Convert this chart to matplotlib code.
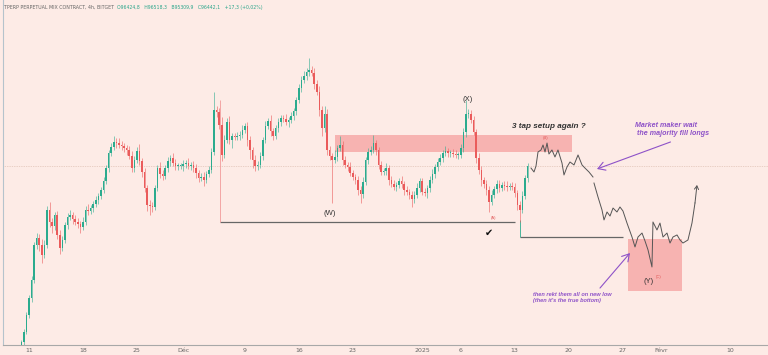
import matplotlib
matplotlib.use("Agg")
import matplotlib.pyplot as plt
import numpy as np

# 8h candles, first one on 2024-11-10 00:00 (x axis = days since 11 Nov)
first_open = 75900
closes = [
    76380, 77520, 79460, 81390, 83450, 87440, 88230, 87440, 86300, 87440,
    91430, 90060, 89600, 90860, 88580, 87090, 88010, 89720, 90630, 90860,
    90400, 90060, 89830, 89490, 90060, 91430, 91310, 91650, 92110, 92570,
    93020, 93710, 94730, 96210, 97920, 98610, 99180, 99060, 98840, 98720,
    98490, 98270, 97580, 96210, 97130, 98150, 97010, 95760, 93930, 92000,
    91880, 91770, 93930, 96210, 95530, 95300, 96210, 97010, 97350, 96780,
    96440, 96440, 96440, 96670, 96780, 96440, 96560, 96210, 95640, 95070,
    95190, 94850, 95530, 95990, 98040, 102830, 102600, 101120, 97700, 99410,
    101460, 99410, 99860, 99750, 99860, 99980, 100550, 101000, 99410, 98270,
    97130, 96440, 96560, 97580, 99410, 101000, 101570, 100430, 99860, 100770,
    101460, 101910, 101800, 101460, 101690, 102140, 102710, 103970, 105330, 106250,
    106700, 107160, 107390, 107040, 105790, 104880, 102830, 100770, 102370, 98270,
    97580, 97130, 97470, 98490, 98840, 97130, 96560, 96330, 95640, 95190,
    94850, 93710, 93250, 94620, 97130, 98040, 98270, 99060, 98270, 96560,
    95760, 95870, 96210, 94850, 94390, 94050, 94280, 94730, 94390, 93710,
    93480, 93140, 92680, 93140, 93930, 94730, 93480, 93360, 93930, 94850,
    95530, 96330, 96900, 97350, 97920, 98150, 97920, 97920, 97810, 97700,
    97700, 98490, 100320, 102370, 102370, 101690, 100320, 97350, 95990, 94850,
    94390, 93710, 92340, 93140, 93820, 94390, 93930, 94280, 94160, 94050,
    94160, 94050, 93360, 92000, 91430, 93020, 95070, 96440,
]
up_wick = [
    200, 300, 300, 400, 500, 300, 600, 500, 700, 600,
    400, 900, 500, 300, 400, 600, 500, 300, 400, 600,
    300, 500, 400, 300, 600, 500, 700, 400, 300, 500,
    400, 300, 500, 400, 300, 500, 700, 400, 600, 500,
    400, 300, 500, 600, 400, 500, 800, 300, 400, 300,
    600, 500, 400, 300, 700, 500, 400, 500, 300, 600,
    500, 400, 300, 500, 400, 600, 300, 400, 500, 300,
    400, 600, 300, 500, 400, 2000, 500, 400, 900, 600,
    500, 700, 400, 300, 500, 400, 600, 300, 500, 400,
    300, 600, 400, 500, 300, 600, 400, 700, 300, 400,
    500, 300, 400, 600, 300, 500, 400, 300, 500, 400,
    600, 500, 1400, 400, 600, 500, 700, 400, 900, 600,
    500, 400, 800, 300, 1000, 500, 400, 300, 600, 400,
    300, 500, 400, 600, 300, 500, 400, 900, 400, 300,
    500, 400, 600, 300, 400, 500, 300, 400, 600, 300,
    400, 300, 500, 400, 600, 300, 400, 500, 300, 400,
    600, 300, 400, 500, 300, 600, 400, 300, 500, 400,
    300, 500, 400, 1600, 600, 400, 500, 300, 600, 400,
    300, 500, 400, 600, 300, 400, 500, 300, 400, 600,
    300, 500, 400, 300, 500, 600, 400, 300,
]
dn_wick = [
    300, 400, 200, 300, 400, 300, 500, 700, 900, 400,
    300, 600, 800, 400, 500, 700, 300, 400, 500, 300,
    600, 400, 500, 700, 300, 400, 500, 300, 400, 300,
    500, 300, 400, 300, 500, 300, 400, 600, 300, 500,
    400, 600, 300, 500, 400, 300, 500, 600, 400, 700,
    1000, 600, 400, 300, 500, 400, 300, 400, 600, 300,
    400, 500, 300, 600, 400, 300, 500, 400, 600, 500,
    300, 700, 400, 300, 400, 300, 600, 500, 700, 400,
    300, 500, 900, 400, 300, 500, 400, 300, 700, 1000,
    900, 600, 400, 300, 500, 400, 300, 600, 400, 300,
    400, 500, 300, 400, 600, 300, 400, 500, 300, 400,
    300, 400, 500, 300, 600, 400, 700, 900, 500, 600,
    500, 4900, 400, 500, 300, 600, 400, 500, 300, 400,
    500, 600, 1000, 400, 300, 500, 400, 300, 600, 500,
    400, 300, 500, 600, 300, 400, 500, 300, 400, 600,
    300, 500, 900, 400, 300, 500, 400, 300, 600, 400,
    300, 400, 500, 300, 400, 300, 500, 400, 300, 400,
    500, 300, 400, 600, 500, 400, 300, 600, 500, 700,
    400, 600, 1100, 400, 300, 500, 400, 300, 400, 500,
    300, 400, 500, 600, 1400, 400, 300, 500,
]

# hand drawn projection (days since 11 Nov, price)
proj_a_days = [65.11, 65.50, 65.76, 66.02, 66.41, 66.67, 66.93, 67.19, 67.44, 67.83,
               68.22, 68.61, 69.13, 69.39, 69.78, 70.17, 70.69, 71.21, 71.73, 72.11,
               72.63, 73.15]
proj_a_price = [96210, 95760, 96440, 98040, 98270, 98840, 98040, 99060, 97810, 98270,
                97470, 98270, 96780, 95420, 96330, 96900, 96560, 97700, 96560, 96210,
                95760, 95190]
proj_b_days = [73.28, 73.80, 74.32, 74.58, 74.97, 75.36, 75.75, 76.26, 76.65, 77.04,
               77.56, 78.21, 78.60, 78.99, 79.51, 79.90, 80.29, 80.80, 80.93, 81.45,
               81.84, 82.23, 82.75, 83.14, 83.53, 84.05, 84.44, 84.82, 85.47, 85.99,
               86.38, 86.64]
proj_b_price = [94500, 92910, 91430, 90290, 91200, 90740, 91650, 91200, 91770, 91310,
                89940, 88350, 87210, 88350, 88800, 87890, 86870, 84930, 90060, 89150,
                89940, 88350, 88800, 87660, 88350, 88580, 88010, 87660, 88010, 89940,
                92220, 94280]

# zones and levels
supply_zone = (39.69, 70.43, 98040, 99980)
target_zone = (77.69, 84.70, 82190, 88120)
w_level = (24.77, 63.04, 90060, 103970)
a_level = (63.68, 77.04, 88350, 90290)
last_price = 96442

tick_days = [0, 7, 14, 20, 28, 35, 42, 51, 56, 63, 70, 77, 82, 91]
tick_labels = ["11", "18", "25", "Déc", "9", "16", "23", "2025", "6", "13",
               "20", "27", "Févr", "10"]

bg = "#fdebe6"
up_col = "#2bab8e"
dn_col = "#ea5b5b"
purple = "#8e52c8"

fig = plt.figure(figsize=(7.68, 3.55), dpi=100)
fig.patch.set_facecolor(bg)
ax = fig.add_axes([3 / 768, 10 / 355, 765 / 768, 345 / 355])
ax.set_facecolor(bg)

# candles
closes = np.array(closes, dtype=float)
opens = np.concatenate([[first_open], closes[:-1]])
t = np.arange(len(closes)) / 3.0 - 1.0
highs = np.maximum(opens, closes) + np.array(up_wick)
lows = np.minimum(opens, closes) - np.array(dn_wick)
colors = np.where(closes >= opens, up_col, dn_col)
ax.vlines(t, lows, highs, colors=colors, linewidth=0.5, alpha=0.8, zorder=3)
bottoms = np.minimum(opens, closes)
heights = np.maximum(np.abs(closes - opens), 80)
ax.bar(t, heights, bottom=bottoms, width=0.2, color=colors, linewidth=0, zorder=4)

# zones
ax.fill_between(supply_zone[:2], supply_zone[2], supply_zone[3], color="#f7aaa8",
                alpha=0.85, linewidth=0, zorder=2)
ax.fill_between(target_zone[:2], target_zone[2], target_zone[3], color="#f7aaa8",
                alpha=0.85, linewidth=0, zorder=2)

# levels
ax.axhline(last_price, color="#d5b3a3", linewidth=0.5, linestyle=(0, (1, 1.5)), zorder=1)
ax.hlines(w_level[2], w_level[0], w_level[1], color="#666666", linewidth=0.9, zorder=2)
ax.vlines(w_level[0], w_level[2], w_level[3], color="#f29a9a", linewidth=0.6, zorder=2)
ax.hlines(a_level[2], a_level[0], a_level[1], color="#666666", linewidth=0.9, zorder=2)
ax.vlines(a_level[0], a_level[2], a_level[3], color=up_col, linewidth=0.6, zorder=2)

# projection sketch
ax.plot(proj_a_days, proj_a_price, color="#555555", linewidth=0.7, zorder=5)
ax.plot(proj_b_days[:-1], proj_b_price[:-1], color="#555555", linewidth=0.7, zorder=5)
ax.annotate("", xy=(proj_b_days[-1], proj_b_price[-1]),
            xytext=(proj_b_days[-2], proj_b_price[-2]),
            arrowprops=dict(arrowstyle="->,head_length=0.25,head_width=0.15",
                            color="#555555", lw=0.7, shrinkA=0, shrinkB=0))

# wave labels
fnt = "Liberation Sans"
ax.text(39.04, 91080, "(W)", fontsize=5.5, color="#333333", ha="center", va="center", family=fnt)
ax.text(56.94, 103970, "(X)", fontsize=5.5, color="#333333", ha="center", va="center", family=fnt)
ax.text(80.42, 83330, "(Y)", fontsize=5.5, color="#333333", ha="center", va="center", family=fnt)
ax.text(81.71, 83790, "(C)", fontsize=3, color="#e05555", ha="center", va="center", family=fnt)
ax.text(60.31, 90510, "(A)", fontsize=3, color="#e05555", ha="center", va="center", family=fnt)
ax.text(67.06, 99630, "(B)", fontsize=3, color="#e05555", ha="center", va="center", family=fnt)
ax.text(59.66, 88800, "\u2714", fontsize=7, color="#111111", ha="center", va="center",
        family="DejaVu Sans")

ax.text(67.44, 100890, "3 tap setup again ?", fontsize=5.9, color="#333333",
        fontweight="bold", fontstyle="italic", ha="center", va="center", family=fnt)
ax.text(78.6, 101440, "Market maker wait\n the majority fill longs", fontsize=5.1,
        color=purple, fontweight="bold", fontstyle="italic", ha="left", va="top",
        linespacing=1.1, family=fnt)
ax.text(65.37, 81450, "then rekt them all on new low\n(then it's the true bottom)",
        fontsize=4.1, color=purple, fontweight="bold", fontstyle="italic",
        ha="left", va="center", linespacing=1.1, family=fnt)

# arrows
arrow_kw = dict(arrowstyle="->,head_length=0.5,head_width=0.3", color=purple, lw=0.8,
                shrinkA=0, shrinkB=0)
ax.annotate("", xy=(73.67, 96100), xytext=(83.2, 99180), arrowprops=arrow_kw)
ax.annotate("", xy=(77.95, 86520), xytext=(74.06, 82530), arrowprops=arrow_kw)

# header
fig.text(4 / 768, 1 - 7 / 355, "TPERP PERPETUAL MIX CONTRACT, 4h, BITGET", fontsize=3.4,
         color="#666666", va="center")
fig.text(117 / 768, 1 - 7 / 355, "O96424,8   H96518,3   B95309,9   C96442,1   +17,3 (+0,02%)",
         fontsize=3.3, color="#2aa58a", va="center")

# axes styling
ax.set_xlim(-3.37, 95.85)
ax.set_ylim(76036, 115366)
ax.set_xticks(tick_days)
ax.set_xticklabels(tick_labels)
ax.set_yticks([])
ax.tick_params(axis="x", length=0, labelsize=4.5, colors="#666666", pad=2.5)
for side in ["top", "right"]:
    ax.spines[side].set_visible(False)
ax.spines["bottom"].set_color("#a8a8a8")
ax.spines["bottom"].set_linewidth(0.8)
ax.spines["left"].set_color("#b5c3cc")
ax.spines["left"].set_linewidth(0.8)

fig.savefig("out.png", dpi=100, facecolor=bg)
